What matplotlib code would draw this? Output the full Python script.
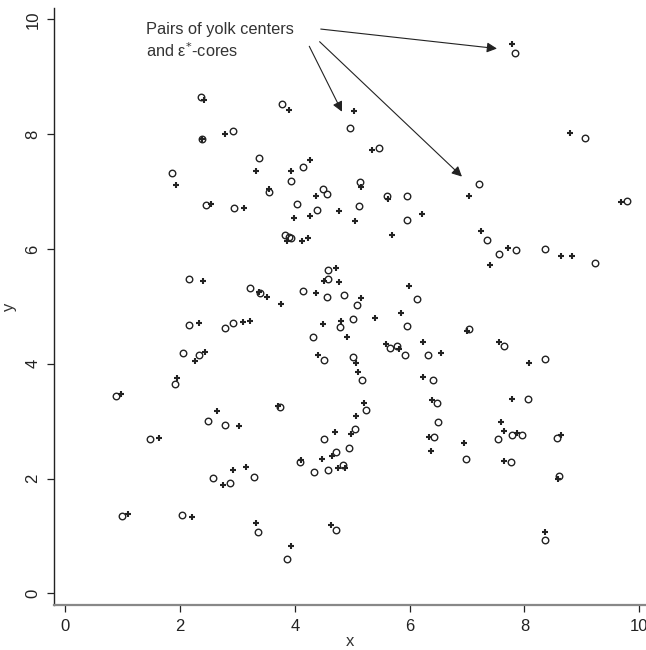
import matplotlib
matplotlib.use('Agg')
import matplotlib.pyplot as plt

plt.rcParams['font.family'] = ['Liberation Sans', 'DejaVu Sans']

# yolk centers (circles)
yolk_x = [2.36, 2.92, 2.38, 3.38, 1.85, 2.45, 2.94, 3.77, 4.96, 5.47,
          4.14, 3.93, 3.54, 4.49, 4.56, 5.13, 5.60, 5.95, 4.03, 5.11,
          4.38, 5.95, 7.84, 9.05, 7.20, 9.79, 2.16, 3.21, 3.40, 2.16,
          2.79, 2.92, 2.05, 2.33, 1.91, 0.88, 3.82, 3.89, 3.93, 4.58,
          4.57, 4.14, 4.56, 4.86, 5.09, 6.13, 4.79, 5.02, 5.95, 4.32,
          5.65, 5.77, 5.91, 6.31, 4.51, 5.01, 5.17, 6.41, 7.35, 7.56,
          7.85, 8.35, 9.22, 7.04, 7.64, 8.35, 2.49, 2.78, 1.48, 2.57,
          2.87, 3.28, 0.99, 2.03, 3.36, 3.74, 5.24, 5.05, 4.51, 4.94,
          4.72, 4.08, 4.34, 4.58, 4.83, 3.87, 4.72, 6.47, 6.49, 6.42,
          8.06, 7.54, 7.78, 7.95, 8.56, 6.98, 7.77, 8.60, 8.35]
yolk_y = [8.64, 8.06, 7.91, 7.58, 7.32, 6.76, 6.71, 8.52, 8.11, 7.76,
          7.42, 7.18, 7.00, 7.04, 6.96, 7.17, 6.93, 6.93, 6.79, 6.75,
          6.68, 6.50, 9.41, 7.94, 7.13, 6.83, 5.48, 5.32, 5.23, 4.67,
          4.63, 4.71, 4.19, 4.15, 3.65, 3.44, 6.25, 6.20, 6.19, 5.63,
          5.47, 5.27, 5.16, 5.20, 5.02, 5.13, 4.64, 4.78, 4.66, 4.47,
          4.27, 4.31, 4.16, 4.15, 4.06, 4.12, 3.72, 3.72, 6.16, 5.91,
          5.98, 5.99, 5.76, 4.60, 4.31, 4.09, 3.01, 2.93, 2.69, 2.01,
          1.92, 2.03, 1.34, 1.36, 1.06, 3.24, 3.19, 2.86, 2.69, 2.54,
          2.46, 2.29, 2.11, 2.14, 2.24, 0.59, 1.11, 3.32, 2.98, 2.73,
          3.38, 2.68, 2.76, 2.76, 2.71, 2.34, 2.28, 2.04, 0.93]

# eps*-cores (pluses)
core_x = [2.42, 2.78, 2.38, 3.33, 1.93, 2.54, 3.11, 3.90, 5.03, 5.34,
          4.26, 3.94, 3.55, 4.36, 5.16, 5.62, 3.99, 4.26, 4.76, 5.04,
          6.21, 7.79, 8.80, 7.04, 9.68, 2.39, 3.51, 3.76, 2.32, 3.10,
          3.22, 2.43, 2.26, 1.94, 0.97, 3.87, 4.13, 4.23, 5.69, 4.72,
          4.51, 4.77, 4.37, 5.15, 5.99, 4.49, 4.80, 5.40, 5.84, 4.90,
          5.59, 5.82, 6.23, 6.54, 4.40, 5.06, 5.10, 6.24, 7.25, 7.71,
          7.40, 8.64, 8.83, 6.99, 7.55, 8.07, 2.65, 3.03, 1.63, 2.92,
          3.14, 2.75, 1.10, 2.21, 3.33, 3.71, 5.21, 5.07, 4.98, 4.69,
          4.65, 4.47, 4.11, 4.75, 4.87, 3.93, 4.63, 6.38, 6.34, 6.37,
          7.79, 7.59, 7.64, 7.87, 8.63, 6.95, 7.64, 8.58, 8.35, 3.38]
core_y = [8.59, 8.01, 7.91, 7.36, 7.12, 6.79, 6.71, 8.42, 8.40, 7.72,
          7.55, 7.36, 7.05, 6.93, 7.07, 6.87, 6.54, 6.58, 6.66, 6.48,
          6.61, 9.57, 8.02, 6.93, 6.82, 5.44, 5.16, 5.04, 4.71, 4.73,
          4.75, 4.21, 4.04, 3.75, 3.47, 6.13, 6.14, 6.19, 6.24, 5.67,
          5.44, 5.42, 5.24, 5.14, 5.35, 4.70, 4.75, 4.80, 4.88, 4.47,
          4.34, 4.26, 4.38, 4.19, 4.16, 4.02, 3.85, 3.77, 6.31, 6.02,
          5.72, 5.88, 5.87, 4.57, 4.38, 4.01, 3.18, 2.91, 2.70, 2.15,
          2.20, 1.88, 1.38, 1.33, 1.22, 3.27, 3.31, 3.09, 2.77, 2.81,
          2.39, 2.34, 2.33, 2.18, 2.18, 0.82, 1.19, 3.36, 2.73, 2.48,
          3.38, 2.99, 2.82, 2.80, 2.76, 2.61, 2.31, 2.00, 1.07, 5.25]

label = 'Pairs of yolk centers\nand ε$^{*}$-cores'
label_pos = (1.40, 9.95)
arrow_tails = [(4.45, 9.83), (4.25, 9.53), (4.43, 9.61)]
arrow_heads = [(7.52, 9.49), (4.82, 8.39), (6.91, 7.26)]

ink = '#222222'

fig = plt.figure(figsize=(6.46, 6.5), dpi=100)
ax = fig.add_axes([0.0841, 0.0692, 0.9159, 0.9185])

ax.plot(yolk_x, yolk_y, 'o', mfc='none', mec=ink, mew=1.0, ms=4.7, clip_on=False)
ax.plot(core_x, core_y, '+', color=ink, mew=1.5, ms=5.0, clip_on=False)

ax.text(label_pos[0], label_pos[1], label, fontsize=11.8, color='#333333',
        ha='left', va='top', linespacing=1.25)
for tail, head in zip(arrow_tails, arrow_heads):
    ax.annotate('', xy=head, xytext=tail,
                arrowprops=dict(arrowstyle='-|>', color=ink, lw=0.8,
                                mutation_scale=15, shrinkA=0, shrinkB=0))

ax.set_xlim(-0.192, 10.117)
ax.set_ylim(-0.204, 10.197)
ax.set_xticks([0, 2, 4, 6, 8, 10])
ax.set_yticks([0, 2, 4, 6, 8, 10])
ax.tick_params(axis='both', labelsize=12, length=5, width=0.9, colors=ink,
               direction='out', pad=5)
for lab in ax.get_yticklabels():
    lab.set_rotation(90)
    lab.set_va('center')

ax.spines['top'].set_visible(False)
ax.spines['right'].set_visible(False)
ax.spines['left'].set_color(ink)
ax.spines['left'].set_linewidth(1.0)
ax.spines['bottom'].set_color('#888888')
ax.spines['bottom'].set_linewidth(1.6)

ax.set_xlabel('x', fontsize=12, color='#333333', labelpad=0)
ax.set_ylabel('y', fontsize=12, color='#333333', labelpad=6)

fig.savefig('out.png', dpi=100)
